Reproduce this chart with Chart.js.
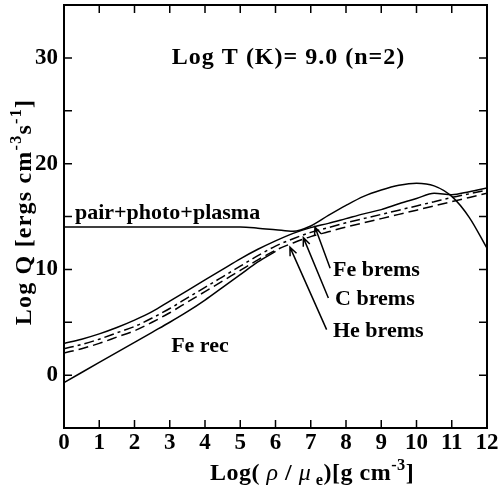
<!DOCTYPE html>
<html>
<head>
<meta charset="utf-8">
<script src="https://cdn.jsdelivr.net/npm/chart.js@4.4.1/dist/chart.umd.min.js"></script>
<style>
  body { margin: 0; background: #fff; }
</style>
</head>
<body>
<canvas id="chart" width="500" height="501"></canvas>
<script>
// Log(rho/mu_e) grid
const xs = [0, 0.5, 1, 1.5, 2, 2.5, 3, 3.5, 4, 4.5, 5, 5.5, 6, 6.5, 7, 7.5, 8, 8.5, 9, 9.5, 10, 10.5, 11, 11.5, 12];

// Log Q for each process
const pairPhotoPlasma = [14.0, 14.0, 14.0, 14.0, 14.0, 14.0, 14.0, 14.0, 14.0, 14.0, 14.0, 13.9, 13.75, 13.6, 14.1, 15.1, 16.05, 16.9, 17.5, 17.95, 18.15, 17.9, 16.9, 14.9, 12.0];
const feBrems = [3.0, 3.4, 3.9, 4.5, 5.2, 6.0, 7.0, 8.0, 9.0, 10.0, 11.0, 11.9, 12.7, 13.4, 13.95, 14.35, 14.8, 15.25, 15.65, 16.2, 16.7, 17.2, 17.05, 17.35, 17.7];
const cBrems = [2.5, 2.9, 3.4, 4.0, 4.6, 5.4, 6.3, 7.3, 8.3, 9.3, 10.3, 11.3, 12.2, 12.9, 13.5, 13.95, 14.4, 14.8, 15.2, 15.6, 16.0, 16.4, 16.8, 17.15, 17.5];
const heBrems = [2.1, 2.5, 3.0, 3.6, 4.2, 5.0, 5.9, 6.9, 7.9, 8.9, 9.9, 10.9, 11.8, 12.5, 13.1, 13.55, 14.0, 14.4, 14.8, 15.2, 15.6, 16.0, 16.4, 16.8, 17.2];
const feRec = [-0.7, 0.25, 1.2, 2.15, 3.1, 4.05, 5.0, 6.0, 7.1, 8.3, 9.5, 10.7, 11.7, null, null, null, null, null, null, null, null, null, null, null, null];

// text labels placed in data coordinates: [text, x, y, size, letterSpacing]
const labels = [
  ["Log T (K)= 9.0 (n=2)", 3.06, 30.0, 24, 1],
  ["pair+photo+plasma", 0.31, 15.3, 22, 0],
  ["Fe rec", 3.04, 2.7, 22, 0],
  ["Fe brems", 7.63, 9.9, 22, 0],
  ["C brems", 7.69, 7.2, 22, 0],
  ["He brems", 7.63, 4.1, 22, 0]
];
// arrows: [tailX, tailY, tipX, tipY]
const arrows = [
  [7.55, 10.1, 7.12, 14.0],
  [7.5, 7.3, 6.79, 13.0],
  [7.45, 4.3, 6.41, 12.1]
];

const FONT = "'Liberation Serif', 'Times New Roman', serif";

function pts(vals) {
  return xs.map((x, i) => ({ x: x, y: vals[i] }));
}

function line(label, vals, dash) {
  return {
    label: label,
    data: pts(vals),
    borderColor: "#000",
    borderWidth: 1.5,
    borderDash: dash,
    pointRadius: 0,
    fill: false,
    cubicInterpolationMode: "monotone",
    spanGaps: false
  };
}

function pieceFont(p, size) {
  const s = p.s ? size * 0.68 : size;
  return (p.it ? "italic " : "bold ") + s + "px " + FONT;
}

function richWidth(ctx, pieces, size) {
  let w = 0;
  pieces.forEach(p => {
    ctx.font = pieceFont(p, size);
    w += ctx.measureText(p.t).width;
  });
  return w;
}

function drawRich(ctx, pieces, x, y, size) {
  let cx = x;
  pieces.forEach(p => {
    ctx.font = pieceFont(p, size);
    let dy = 0;
    if (p.s === "sup") dy = -size * 0.42;
    if (p.s === "sub") dy = size * 0.22;
    ctx.fillText(p.t, cx, y + dy);
    cx += ctx.measureText(p.t).width;
  });
}

const decor = {
  id: "decor",
  afterDraw(chart) {
    const ctx = chart.ctx;
    const a = chart.chartArea;
    const sx = chart.scales.x, sy = chart.scales.y;
    ctx.save();
    ctx.strokeStyle = "#000";
    ctx.fillStyle = "#000";
    ctx.lineWidth = 2;
    ctx.strokeRect(a.left, a.top, a.right - a.left, a.bottom - a.top);

    // inward ticks on all four sides
    ctx.lineWidth = 1.5;
    ctx.beginPath();
    for (let v = 0; v <= 12; v++) {
      const px = sx.getPixelForValue(v);
      ctx.moveTo(px, a.bottom); ctx.lineTo(px, a.bottom - 8);
      ctx.moveTo(px, a.top); ctx.lineTo(px, a.top + 8);
    }
    for (let v = -5; v <= 35; v += 5) {
      const py = sy.getPixelForValue(v);
      ctx.moveTo(a.left, py); ctx.lineTo(a.left + 8, py);
      ctx.moveTo(a.right, py); ctx.lineTo(a.right - 8, py);
    }
    ctx.stroke();

    // labels
    ctx.textBaseline = "middle";
    ctx.textAlign = "left";
    labels.forEach(([t, x, y, size, ls]) => {
      ctx.font = "bold " + size + "px " + FONT;
      ctx.letterSpacing = ls + "px";
      ctx.fillText(t, sx.getPixelForValue(x), sy.getPixelForValue(y));
    });
    ctx.letterSpacing = "0px";

    // arrows
    ctx.lineWidth = 1.5;
    arrows.forEach(([x0, y0, x1, y1]) => {
      const ax = sx.getPixelForValue(x0), ay = sy.getPixelForValue(y0);
      const bx = sx.getPixelForValue(x1), by = sy.getPixelForValue(y1);
      const ang = Math.atan2(by - ay, bx - ax);
      ctx.beginPath();
      ctx.moveTo(ax, ay); ctx.lineTo(bx, by);
      ctx.moveTo(bx - 9 * Math.cos(ang - 0.4), by - 9 * Math.sin(ang - 0.4));
      ctx.lineTo(bx, by);
      ctx.lineTo(bx - 9 * Math.cos(ang + 0.4), by - 9 * Math.sin(ang + 0.4));
      ctx.stroke();
    });

    // axis titles
    ctx.textBaseline = "alphabetic";
    const xt = [
      { t: "Log( " }, { t: "\u03C1", it: true }, { t: " / " }, { t: "\u03BC", it: true },
      { t: " e", s: "sub" }, { t: ")[g cm" }, { t: "-3", s: "sup" }, { t: "]" }
    ];
    ctx.letterSpacing = "0.5px";
    drawRich(ctx, xt, 210, 480, 24);

    const yt = [
      { t: "Log Q [ergs cm" }, { t: "-3", s: "sup" }, { t: "s" }, { t: "-1", s: "sup" }, { t: "]" }
    ];
    ctx.save();
    ctx.translate(0, 212);
    ctx.rotate(-Math.PI / 2);
    ctx.letterSpacing = "1.2px";
    const w = richWidth(ctx, yt, 24);
    drawRich(ctx, yt, -w / 2, 31, 24);
    ctx.restore();

    ctx.restore();
  }
};

const ctx = document.getElementById("chart").getContext("2d");
new Chart(ctx, {
  type: "line",
  data: {
    datasets: [
      line("pair+photo+plasma", pairPhotoPlasma, []),
      line("Fe brems", feBrems, []),
      line("C brems", cBrems, [10, 4, 3, 4]),
      line("He brems", heBrems, [10, 5]),
      line("Fe rec", feRec, [])
    ]
  },
  options: {
    responsive: false,
    devicePixelRatio: 1,
    animation: false,
    layout: { padding: { top: 5, right: 13, left: 0, bottom: 0 } },
    plugins: { legend: { display: false }, tooltip: { enabled: false } },
    scales: {
      x: {
        type: "linear",
        min: 0,
        max: 12,
        afterFit: s => { s.height = 73; s.paddingLeft = 0; s.paddingRight = 0; },
        grid: { display: false, drawTicks: false },
        border: { display: false },
        ticks: {
          stepSize: 1,
          padding: 1,
          color: "#000",
          font: { family: FONT, size: 23, weight: "bold" }
        }
      },
      y: {
        type: "linear",
        min: -5,
        max: 35,
        afterFit: s => { s.width = 64; s.paddingTop = 0; s.paddingBottom = 0; },
        grid: { display: false, drawTicks: false },
        border: { display: false },
        ticks: {
          stepSize: 5,
          padding: 6,
          color: "#000",
          font: { family: FONT, size: 23, weight: "bold" },
          callback: v => (v % 10 === 0 ? v : "")
        }
      }
    }
  },
  plugins: [decor]
});
</script>
</body>
</html>
